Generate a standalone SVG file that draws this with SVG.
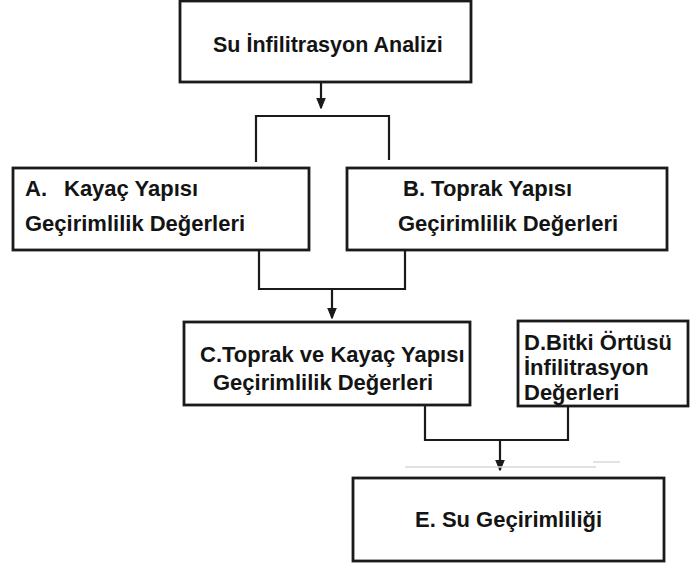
<svg xmlns="http://www.w3.org/2000/svg" width="691" height="566" viewBox="0 0 691 566">
<style>
.box{fill:#fff;stroke:#1a1a1a;stroke-width:2.8}
.con{fill:none;stroke:#1a1a1a;stroke-width:2.2}
.t{font-family:"Liberation Sans",Arial,sans-serif;font-weight:bold;font-size:22px;fill:#141414}
.faint{stroke:#d8d8d8;stroke-width:1.5}
</style>
<defs>
<marker id="ah" viewBox="0 0 11 10" refX="10.5" refY="5" markerWidth="11" markerHeight="10" markerUnits="userSpaceOnUse" orient="auto">
<path d="M0,0.5 L11,5 L0,9.5 Z" fill="#1a1a1a" stroke="#1a1a1a" stroke-width="1" stroke-linejoin="round"/>
</marker>
</defs>
<rect width="691" height="566" fill="#fff"/>
<g id="connectors">
<line class="con" x1="321" y1="82" x2="321" y2="108" marker-end="url(#ah)"/>
<path class="con" d="M256,162 V116 H389 V160"/>
<path class="con" d="M259,250 V289 H405 V250"/>
<line class="con" x1="332" y1="289" x2="332" y2="318" marker-end="url(#ah)"/>
<path class="con" d="M425,405 V440 H568 V405"/>
<line class="con" x1="500" y1="440" x2="500" y2="470" marker-end="url(#ah)"/>
<line class="faint" x1="405" y1="467" x2="596" y2="467"/>
<line class="faint" x1="593" y1="462" x2="620" y2="462"/>
</g>
<g id="top">
<rect class="box" x="180" y="1" width="291" height="81"/>
<text class="t" x="213" y="52" style="font-size:21.5px">Su İnfilitrasyon Analizi</text>
</g>
<g id="A">
<rect class="box" x="13" y="168" width="296" height="82"/>
<text class="t" y="196"><tspan x="25">A.</tspan><tspan x="64">Kayaç Yapısı</tspan></text>
<text class="t" x="25" y="231">Geçirimlilik Değerleri</text>
</g>
<g id="B">
<rect class="box" x="347" y="168" width="320" height="82"/>
<text class="t" x="403" y="196">B. Toprak Yapısı</text>
<text class="t" x="398" y="231">Geçirimlilik Değerleri</text>
</g>
<g id="C">
<rect class="box" x="184" y="322" width="286" height="83"/>
<text class="t" x="200" y="362">C.Toprak ve Kayaç Yapısı</text>
<text class="t" x="213" y="390">Geçirimlilik Değerleri</text>
</g>
<g id="D">
<rect class="box" x="518" y="321" width="170" height="85"/>
<text class="t" x="524" y="350">D.Bitki Örtüsü</text>
<text class="t" x="524" y="375">İnfilitrasyon</text>
<text class="t" x="524" y="400">Değerleri</text>
</g>
<g id="E">
<rect class="box" x="353" y="478" width="311" height="83"/>
<text class="t" x="415" y="527">E. Su Geçirimliliği</text>
</g>
</svg>
